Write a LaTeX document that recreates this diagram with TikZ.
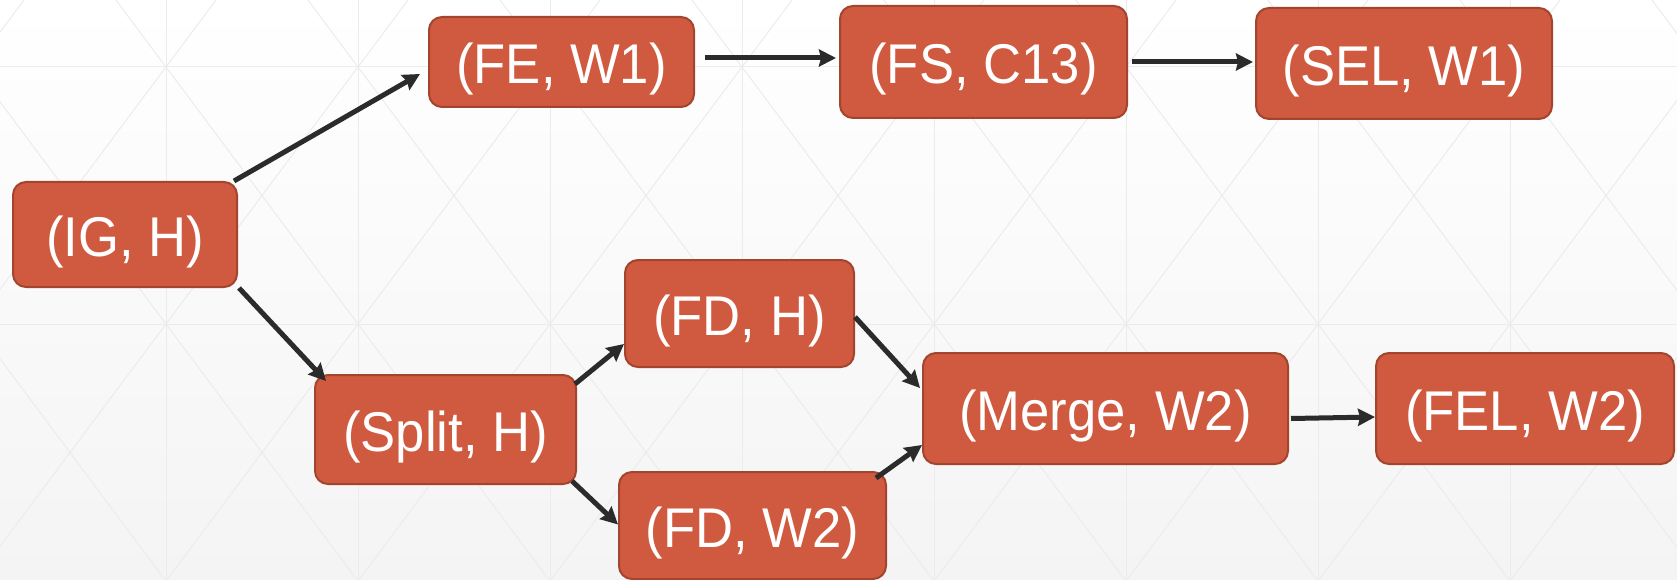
\documentclass[tikz,border=0pt]{standalone}
\usepackage{fontspec}
\setmainfont{Liberation Sans}[FakeStretch=0.94]
\usetikzlibrary{arrows.meta}
\definecolor{boxfill}{HTML}{D05A3F}
\definecolor{boxline}{HTML}{A3442E}
\definecolor{arrowcol}{HTML}{2B2B2B}
\definecolor{gridcol}{HTML}{ECECEC}
\definecolor{bgtop}{HTML}{FFFFFF}
\definecolor{bgbot}{HTML}{F4F4F4}
\tikzset{
  stage/.style={draw=boxline, line width=2pt, fill=boxfill, rounded corners=13pt,
    text=white, inner sep=0pt, text height=44pt, text depth=0pt,
    font=\fontsize{56}{64}\selectfont},
  conn/.style={draw=arrowcol, line width=5pt,
    -{Stealth[length=17pt,width=17pt,inset=2pt]}},
  gridline/.style={draw=gridcol, line width=1pt}
}
\begin{document}
\begin{tikzpicture}[x=1pt,y=-1pt]
\useasboundingbox (0,0) rectangle (1677,580);
% background with faint triangular grid
\shade[top color=bgtop, bottom color=bgbot] (0,0) rectangle (1677,580);
\begin{scope}
  \clip (0,0) rectangle (1677,580);
  \foreach \k in {-1,...,8} {
    \draw[gridline] ({166+192*\k},0) -- ({166+192*\k},580);
  }
  \draw[gridline] (0,67) -- (1677,67);
  \draw[gridline] (0,324) -- (1677,324);
  \foreach \k in {-5,...,12} {
    \draw[gridline] ({166+192*\k-124.8},-100) -- ({166+192*\k+472.9},700);
    \draw[gridline] ({166+192*\k+124.8},-100) -- ({166+192*\k-472.9},700);
  }
\end{scope}
% stages
\node[stage, minimum width=224pt, minimum height=105pt] (ig)    at (125,234.5)   {(IG, H)};
\node[stage, minimum width=265pt, minimum height=90pt]  (fe)    at (561.5,62)    {(FE, W1)};
\node[stage, minimum width=287pt, minimum height=112pt] (fs)    at (983.5,62)    {(FS, C13)};
\node[stage, minimum width=296pt, minimum height=111pt] (sel)   at (1404,63.5)   {(SEL, W1)};
\node[stage, minimum width=229pt, minimum height=107pt] (fdh)   at (739.5,313.5) {(FD, H)};
\node[stage, minimum width=261pt, minimum height=109pt] (split) at (445.5,429.5) {(Split, H)};
\node[stage, minimum width=267pt, minimum height=107pt] (fdw)   at (752.5,525.5) {(FD, W2)};
\node[stage, minimum width=365pt, minimum height=111pt] (merge) at (1105.5,408.5) {(Merge, W2)};
\node[stage, minimum width=298pt, minimum height=111pt] (fel)   at (1525,408.5)  {(FEL, W2)};
% connectors
\draw[conn] ([shift={(-4,0)}]ig.north east) -- ([shift={(-8,12)}]fe.west);
\draw[conn] ([shift={(10,-4)}]fe.east) -- ([shift={(-3,-4)}]fs.west);
\draw[conn] ([shift={(4,0)}]fs.east) -- ([shift={(-2,-1.5)}]sel.west);
\draw[conn] ([shift={(1,0)}]ig.south east) -- ([shift={(12,7)}]split.north west);
\draw[conn] ([shift={(-2,10)}]split.north east) -- ([shift={(0,-24)}]fdh.south west);
\draw[conn] ([shift={(-5,-4)}]split.south east) -- ([shift={(0,-1)}]fdw.west);
\draw[conn] ([shift={(0,3.5)}]fdh.east) -- ([shift={(-2,-20.5)}]merge.west);
\draw[conn] ([shift={(-11,7)}]fdw.north east) -- ([shift={(0,36.5)}]merge.west);
\draw[conn] ([shift={(2,10)}]merge.east) -- ([shift={(0,8.5)}]fel.west);
\end{tikzpicture}
\end{document}
